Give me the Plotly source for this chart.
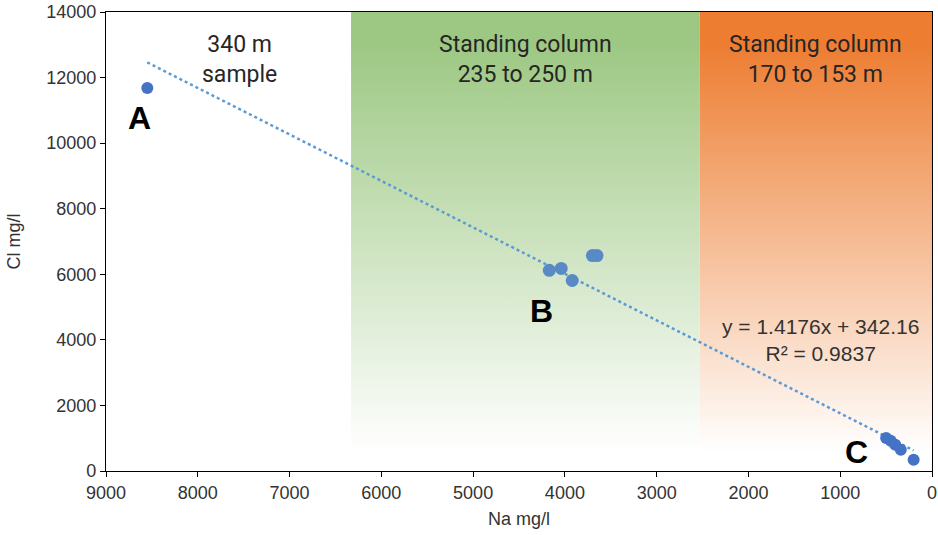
import plotly.graph_objects as go

# Sample chemistry (Na vs Cl, mg/l)
na_a = [8550]
cl_a = [11680]
na_b = [4170, 4040, 3920, 3700, 3650]
cl_b = [6120, 6180, 5810, 6570, 6570]
na_c = [500, 450, 400, 340, 200]
cl_c = [1010, 920, 800, 650, 340]

# Linear fit reported on the chart
slope = 1.4176
intercept = 342.16
r2 = 0.9837
fit_x = [8550, 200]
fit_y = [slope * v + intercept for v in fit_x]

# Depth-zone bands along the Na axis
green_band = [6330, 2530]
orange_band = [2530, 0]

x_ticks = list(range(0, 9001, 1000))
y_ticks = list(range(0, 14001, 2000))
y_ticktext = [str(v) for v in y_ticks]
x_ticktext = [str(v) for v in x_ticks]

fig = go.Figure()


def band(x0, x1, color):
    return go.Scatter(
        x=[x0, x1, x1, x0, x0], y=[0, 0, 14000, 14000, 0],
        mode="lines", line=dict(width=0), fill="toself",
        fillgradient=dict(
            type="vertical", start=0, stop=14000,
            colorscale=[[0, "rgba(255,255,255,1)"], [0.04, "rgba(255,255,255,1)"],
                        [0.93, color], [1, color]],
        ),
        hoverinfo="skip", showlegend=False,
    )


fig.add_trace(band(green_band[0], green_band[1], "#9dc883"))
fig.add_trace(band(orange_band[0], orange_band[1], "#ed7d31"))

fig.add_trace(go.Scatter(
    x=fit_x, y=fit_y, mode="lines",
    line=dict(color="#5b9bd5", width=2.5, dash="dot"), showlegend=False,
))

fig.add_trace(go.Scatter(x=na_a, y=cl_a, mode="markers",
                         marker=dict(size=12, color="#4472c4"), showlegend=False))
fig.add_trace(go.Scatter(x=na_b, y=cl_b, mode="markers",
                         marker=dict(size=13, color="#5a8ac6"), showlegend=False))
fig.add_trace(go.Scatter(x=na_c, y=cl_c, mode="markers",
                         marker=dict(size=12, color="#4472c4"), showlegend=False))

label_font = dict(family="Roboto", size=23, color="#262626")
fig.add_annotation(x=7550, y=12550, text="340 m<br>sample", showarrow=False, font=label_font)
fig.add_annotation(x=sum(green_band) / 2, y=12550, text="Standing column<br>235 to 250 m",
                   showarrow=False, font=label_font)
fig.add_annotation(x=sum(orange_band) / 2, y=12550, text="Standing column<br>170 to 153 m",
                   showarrow=False, font=label_font)

letter_font = dict(family="Liberation Sans", size=32, color="#000000")
fig.add_annotation(x=8630, y=10780, text="<b>A</b>", showarrow=False, font=letter_font)
fig.add_annotation(x=4260, y=4880, text="<b>B</b>", showarrow=False, font=letter_font)
fig.add_annotation(x=820, y=580, text="<b>C</b>", showarrow=False, font=letter_font)

fig.add_annotation(
    x=1220, y=4000, showarrow=False,
    text=f"y = {slope}x + {intercept}<br>R² = {r2}",
    font=dict(family="Liberation Sans", size=21, color="#333333"),
)

axis_common = dict(
    showline=True, linecolor="#000000", linewidth=1.3, mirror=True,
    ticks="outside", ticklen=5, tickcolor="#000000", tickwidth=1,
    showgrid=False, zeroline=False, ticklabeloverflow="allow",
    tickfont=dict(family="Liberation Sans", size=18, color="#333333"),
    title_font=dict(family="Liberation Sans", size=18, color="#333333"),
)

fig.update_layout(
    width=938, height=535,
    margin=dict(l=106, r=6, t=12, b=64, autoexpand=False),
    paper_bgcolor="white", plot_bgcolor="white",
    xaxis=dict(range=[9000, 0], tickvals=x_ticks, ticktext=x_ticktext,
               title=dict(text="Na mg/l", standoff=10), **axis_common),
    yaxis=dict(range=[0, 14000], tickvals=y_ticks, ticktext=y_ticktext,
               title=dict(text="Cl mg/l", standoff=20), **axis_common),
)

fig.write_html("out.html")
